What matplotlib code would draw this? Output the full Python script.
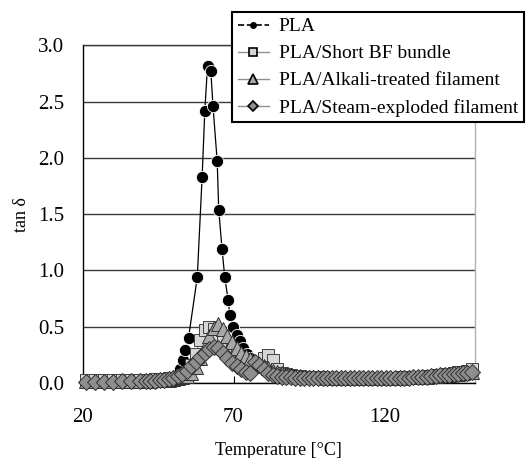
import matplotlib
matplotlib.use("Agg")
import matplotlib.pyplot as plt
from matplotlib.lines import Line2D

# --- data ---
TEMP_PLA = [21, 25, 29, 33, 37, 41, 44, 46, 48, 49.5, 51, 52.2, 53.3, 54, 55.1,
            58, 59.6, 60.5, 61.4, 62.5, 63.2, 64.6, 65.1, 66.2, 67.1, 68.2, 68.8,
            69.9, 71, 72.1, 73.2, 74.4, 75.6, 76.8, 78, 79.5, 81, 83, 85, 87, 90,
            93, 96, 100, 104, 108, 112, 116, 120, 124, 128, 132, 136, 140, 144, 148]
TAN_PLA = [0.01, 0.01, 0.01, 0.012, 0.014, 0.018, 0.022, 0.027, 0.035, 0.045, 0.07,
           0.12, 0.2, 0.29, 0.4, 0.94, 1.83, 2.42, 2.82, 2.77, 2.46, 1.97, 1.54,
           1.19, 0.94, 0.74, 0.6, 0.5, 0.43, 0.37, 0.31, 0.26, 0.22, 0.19, 0.16,
           0.14, 0.12, 0.1, 0.085, 0.075, 0.065, 0.058, 0.052, 0.05, 0.048, 0.047,
           0.046, 0.046, 0.046, 0.047, 0.05, 0.055, 0.06, 0.067, 0.075, 0.085]

TEMP_COMP = [21, 24, 27, 30, 33, 36, 39,
             41, 42.5, 44, 45.5, 47, 48.5, 50, 51.5, 53, 54.5, 56, 57.5, 59, 60.5,
             62, 63.5, 65, 66.5, 68, 69.5, 71, 72.5, 74, 75.5, 77, 78.5, 80, 81.5,
             83, 84.5, 86, 87.5, 89, 90.5, 92, 93.5, 95, 96.5, 98, 99.5, 101, 102.5,
             104, 105.5, 107, 108.5, 110, 111.5, 113, 114.5, 116, 117.5, 119, 120.5,
             122, 123.5, 125, 126.5, 128, 129.5, 131, 132.5, 134, 135.5, 137, 138.5,
             140, 141.5, 143, 144.5, 146, 147.5, 149]

TAN_SHORT_BF = [0.03, 0.03, 0.03, 0.03, 0.03, 0.03, 0.03,
                0.03, 0.03, 0.031, 0.033, 0.036, 0.04, 0.046, 0.055, 0.07, 0.1,
                0.16, 0.26, 0.38, 0.47, 0.5, 0.48, 0.43, 0.38, 0.33, 0.29, 0.25,
                0.22, 0.2, 0.18, 0.17, 0.18, 0.22, 0.25, 0.2, 0.12, 0.09, 0.075,
                0.068, 0.062, 0.058, 0.055, 0.052, 0.05, 0.049, 0.048, 0.047, 0.047,
                0.046, 0.046, 0.046, 0.046, 0.046, 0.046, 0.046, 0.046, 0.046, 0.046,
                0.046, 0.046, 0.047, 0.047, 0.048, 0.049, 0.05, 0.052, 0.054, 0.056,
                0.059, 0.062, 0.066, 0.07, 0.075, 0.08, 0.086, 0.093, 0.1, 0.11, 0.12]

TAN_ALKALI = [0.02, 0.02, 0.02, 0.02, 0.02, 0.02, 0.02,
              0.02, 0.021, 0.022, 0.024, 0.027, 0.03, 0.035, 0.042, 0.05, 0.065,
              0.09, 0.14, 0.22, 0.32, 0.42, 0.49, 0.52, 0.48, 0.42, 0.36, 0.31,
              0.27, 0.24, 0.21, 0.19, 0.17, 0.15, 0.13, 0.11, 0.095, 0.085, 0.075,
              0.068, 0.062, 0.058, 0.055, 0.052, 0.05, 0.049, 0.048, 0.047, 0.046,
              0.046, 0.045, 0.045, 0.045, 0.045, 0.045, 0.045, 0.045, 0.045, 0.045,
              0.045, 0.045, 0.046, 0.046, 0.047, 0.048, 0.049, 0.05, 0.052, 0.054,
              0.056, 0.059, 0.062, 0.066, 0.07, 0.074, 0.078, 0.083, 0.088, 0.093, 0.098]

TAN_STEAM = [0.012, 0.012, 0.012, 0.012, 0.013, 0.013, 0.014,
             0.016, 0.018, 0.02, 0.023, 0.028, 0.035, 0.045, 0.06, 0.08, 0.11,
             0.15, 0.19, 0.23, 0.27, 0.3, 0.32, 0.31, 0.27, 0.22, 0.18, 0.15,
             0.12, 0.1, 0.09, 0.19, 0.16, 0.12, 0.09, 0.07, 0.06, 0.055, 0.05,
             0.048, 0.046, 0.045, 0.044, 0.043, 0.043, 0.042, 0.042, 0.042, 0.042,
             0.042, 0.042, 0.042, 0.042, 0.042, 0.042, 0.042, 0.042, 0.042, 0.042,
             0.042, 0.042, 0.043, 0.043, 0.044, 0.045, 0.046, 0.048, 0.05, 0.052,
             0.055, 0.058, 0.062, 0.066, 0.07, 0.074, 0.078, 0.083, 0.088, 0.092, 0.096]

LABELS = ["PLA", "PLA/Short BF bundle", "PLA/Alkali-treated filament",
          "PLA/Steam-exploded filament"]
X_TICKS = [20, 70, 120]
Y_TICKS = [0.0, 0.5, 1.0, 1.5, 2.0, 2.5, 3.0]

SERIF = ["Liberation Serif", "DejaVu Serif"]
plt.rcParams["font.family"] = SERIF

fig = plt.figure(figsize=(5.26, 4.58), dpi=100)
ax = fig.add_axes([0.157, 0.164, 0.746, 0.737])

# series, drawn in legend order (last on top); markers spill over the axis like the original
ax.plot(TEMP_PLA, TAN_PLA, color="black", lw=0.9, marker="o", ms=8.8,
        mfc="black", mec="white", mew=0.6, zorder=3, clip_on=False)
ax.plot(TEMP_COMP, TAN_SHORT_BF, color="#909090", lw=0.8, marker="s", ms=8.0,
        mfc="#d6d6d6", mec="#404040", mew=0.7, zorder=4, clip_on=False)
ax.plot(TEMP_COMP, TAN_ALKALI, color="#808080", lw=0.8, marker="^", ms=9.5,
        mfc="#a8a8a8", mec="#303030", mew=0.7, zorder=5, clip_on=False)
ax.plot(TEMP_COMP, TAN_STEAM, color="#606060", lw=0.8, marker="D", ms=8.4,
        mfc="#8e8e8e", mec="#303030", mew=0.7, zorder=6, clip_on=False)

ax.set_xlim(20, 150)
ax.set_ylim(0, 3.0)
ax.set_xticks(X_TICKS)
ax.set_yticks(Y_TICKS)
ax.set_yticklabels([f"{v:.1f}" for v in Y_TICKS])
ax.tick_params(axis="x", direction="in", length=5, pad=18, labelsize=15)
ax.tick_params(axis="y", length=0, pad=13, labelsize=15)

ax.yaxis.grid(True, color="#3a3a3a", lw=1.0)
ax.set_axisbelow(True)
ax.spines["left"].set_color("black")
ax.spines["bottom"].set_color("black")
ax.spines["top"].set_color("#3a3a3a")
ax.spines["right"].set_color("#b0b0b0")
for sp in ax.spines.values():
    sp.set_linewidth(1.0)

ax.set_xlabel("Temperature [°C]", fontsize=13, labelpad=11)
ax.set_ylabel("tan δ", fontsize=13, labelpad=6)

# legend with its own small handles
handles = [
    Line2D([], [], color="black", ls="--", lw=1.2, marker="o", ms=4, mfc="black", mec="black"),
    Line2D([], [], color="#909090", lw=1.0, marker="s", ms=6, mfc="#d6d6d6", mec="black", mew=1.2),
    Line2D([], [], color="#909090", lw=1.0, marker="^", ms=6.5, mfc="#a8a8a8", mec="black", mew=1.2),
    Line2D([], [], color="#909090", lw=1.0, marker="D", ms=5.5, mfc="#8e8e8e", mec="black", mew=1.2),
]
leg = fig.legend(handles, LABELS, loc="upper left",
                 bbox_to_anchor=(232 / 526, 1 - 12 / 458), borderaxespad=0,
                 fancybox=False, framealpha=1, edgecolor="black", fontsize=14,
                 handlelength=1.6, handletextpad=0.5, borderpad=0.3,
                 labelspacing=0.48)
leg.get_frame().set_linewidth(1.5)
leg.set_zorder(10)

fig.savefig("out.png", dpi=100)
